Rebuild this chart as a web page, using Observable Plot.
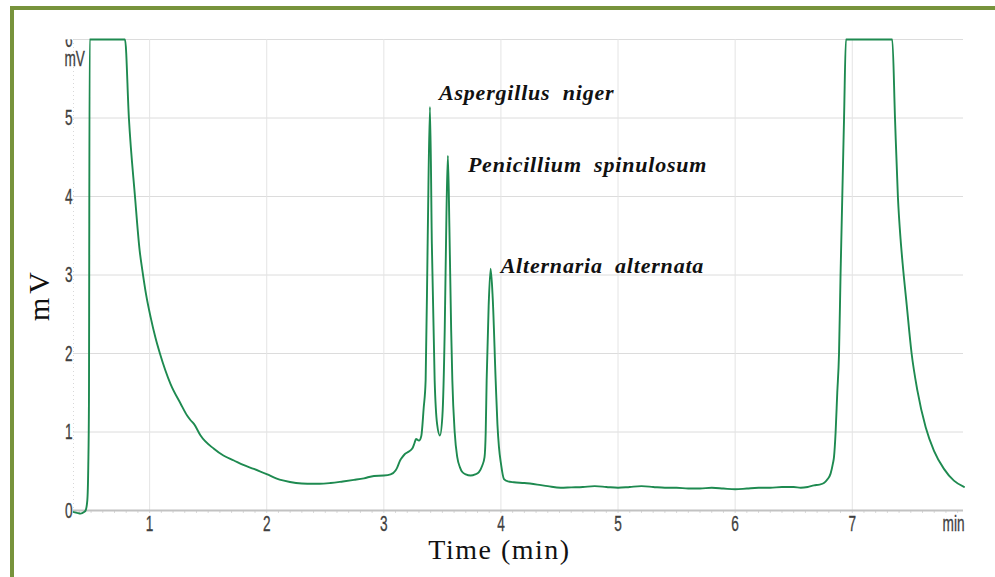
<!DOCTYPE html>
<html>
<head>
<meta charset="utf-8">
<script src="https://cdn.jsdelivr.net/npm/d3@7"></script>
<script src="https://cdn.jsdelivr.net/npm/@observablehq/plot@0.6"></script>
<style>
  html, body { margin: 0; padding: 0; background: #fff; }
  #frame { position: relative; width: 995px; height: 577px; overflow: hidden; }
  #chart { position: absolute; left: 0; top: 0; }
  #frame .edge {
    position: absolute; left: 10px; top: 6px; right: 0; bottom: 0;
    border-top: 4px solid #77933c; border-left: 4px solid #77933c;
    pointer-events: none;
  }
</style>
</head>
<body>
<div id="frame"><div id="chart"></div><div class="edge"></div></div>
<script>
// Chromatogram trace: retention time (min) and detector signal (mV).
// The detector saturates at the top of the 0–6 mV window (solvent fronts).
const time = [
  0.352, 0.38, 0.41, 0.44, 0.453, 0.468, 0.476, 0.482, 0.488,
  0.79, 0.823, 0.875, 0.915, 0.938, 0.97, 1.009, 1.05, 1.088,
  1.179, 1.265, 1.32, 1.35, 1.38, 1.435, 1.549, 1.63, 1.72, 1.80, 1.89,
  2.005, 2.08, 2.147, 2.25, 2.347, 2.45, 2.546, 2.65, 2.745, 2.83, 2.916,
  3.0, 3.058, 3.1, 3.115, 3.14, 3.158, 3.18, 3.2, 3.243, 3.26, 3.275, 3.3, 3.32,
  3.34, 3.357, 3.375, 3.394, 3.41, 3.434, 3.455, 3.479, 3.50, 3.52, 3.535,
  3.547, 3.56, 3.575, 3.585, 3.605, 3.627, 3.65, 3.67, 3.70, 3.741, 3.78,
  3.812, 3.84, 3.86, 3.87, 3.878, 3.895, 3.912, 3.93, 3.955, 3.97, 3.983,
  4.0, 4.026, 4.06, 4.11, 4.2, 4.31, 4.4, 4.51, 4.6, 4.7, 4.8, 4.9,
  5.0, 5.1, 5.2, 5.3, 5.4, 5.5, 5.6, 5.7, 5.8, 5.9, 6.0, 6.1, 6.2, 6.3,
  6.4, 6.5, 6.56, 6.62, 6.673, 6.72, 6.758, 6.79, 6.815, 6.835, 6.844,
  6.858, 6.872, 6.887, 6.9, 6.93, 6.946, 7.342, 7.365, 7.39, 7.413, 7.43,
  7.465, 7.507, 7.556, 7.627, 7.698, 7.783, 7.868, 7.954
];
const signal = [
  -0.02, -0.03, -0.04, -0.02, 0.0, 0.13, 0.55, 1.4, 6.0,
  6.0, 5.0, 4.0, 3.31, 3.06, 2.75, 2.46, 2.2, 2.0,
  1.61, 1.36, 1.21, 1.15, 1.10, 0.955, 0.786, 0.70, 0.637, 0.58, 0.53,
  0.459, 0.41, 0.38, 0.35, 0.34, 0.34, 0.35, 0.37, 0.39, 0.41, 0.44,
  0.445, 0.46, 0.51, 0.55, 0.64, 0.68, 0.72, 0.74, 0.79, 0.85, 0.91, 0.89, 0.95,
  1.3, 1.66, 3.5, 5.14, 3.4, 1.66, 1.1, 0.955, 1.2, 2.3, 3.8,
  4.52, 3.6, 2.3, 1.66, 1.0, 0.68, 0.55, 0.49, 0.46, 0.446, 0.46,
  0.49, 0.57, 0.68, 1.0, 1.66, 2.6, 3.08, 2.7, 1.66, 1.1, 0.81,
  0.6, 0.40, 0.37, 0.36, 0.35, 0.33, 0.31, 0.29, 0.295, 0.30, 0.31, 0.30,
  0.29, 0.30, 0.31, 0.30, 0.29, 0.29, 0.28, 0.28, 0.29, 0.28, 0.27, 0.28, 0.29, 0.29,
  0.30, 0.30, 0.29, 0.30, 0.32, 0.33, 0.35, 0.40, 0.47, 0.6, 0.68,
  1.0, 1.5, 2.0, 3.0, 5.0, 6.0, 6.0, 5.0, 3.99, 3.45, 3.15,
  2.62, 2.0, 1.53, 1.06, 0.76, 0.53, 0.38, 0.30
];

// Identified fungal peaks
const peakNames = ["Aspergillus niger", "Penicillium spinulosum", "Alternaria alternata"];
const peakTime = [3.394, 3.547, 3.912];
const peakHeight = [5.14, 4.52, 3.08];

// Axes
const xTicks = [1, 2, 3, 4, 5, 6, 7];
const yTicks = [0, 1, 2, 3, 4, 5, 6];
const xDomain = [0.35, 7.95];
const yDomain = [0, 6];

const traceColor = "#1e8a50";
const tickColor = "#3f3f3f";
const tickFont = "Liberation Sans, Arial, sans-serif";
const serif = "Liberation Serif, Times New Roman, serif";
const intFormat = (d) => String(d);

function peakLabel(i, dx, dy) {
  return Plot.text([i], {
    x: [peakTime[i]], y: [peakHeight[i]], text: [peakNames[i]],
    dx, dy, textAnchor: "start", lineAnchor: "middle",
    fontFamily: serif, fontStyle: "italic", fontWeight: "bold",
    fontSize: 22, fill: "#111", ariaDescription: "peak-label"
  });
}

const chart = Plot.plot({
  width: 995,
  height: 577,
  marginLeft: 73,
  marginRight: 32,
  marginTop: 39,
  marginBottom: 67,
  style: { background: "transparent", overflow: "visible" },
  x: { domain: xDomain },
  y: { domain: yDomain },
  marks: [
    Plot.gridY(yTicks.slice(1), { stroke: "#dcdcdc", strokeOpacity: 1, strokeWidth: 1 }),
    Plot.gridX(xTicks, { stroke: "#e4e4e4", strokeOpacity: 1, strokeWidth: 1 }),
    Plot.ruleX([xDomain[0]], { stroke: "#d8d8d8", strokeDasharray: "1,3" }),
    Plot.axisX(d3.range(0.4, 7.95, 0.1), {
      tickSize: 3, stroke: "#dadada", text: null, label: null, strokeWidth: 1
    }),
    Plot.ruleY([0], { stroke: "#c2c2c2", strokeWidth: 2 }),
    Plot.axisY(yTicks, {
      tickSize: 0, tickPadding: 1, fontSize: 22, fontFamily: tickFont,
      color: tickColor, label: null, tickFormat: intFormat
    }),
    Plot.axisX(xTicks, {
      tickSize: 0, tickPadding: 5, fontSize: 22, fontFamily: tickFont,
      color: tickColor, label: null, tickFormat: intFormat
    }),
    Plot.text(["mV"], {
      frameAnchor: "top-left", dx: -9, dy: 11, textAnchor: "start", lineAnchor: "top",
      fontSize: 22, fontFamily: tickFont, fill: tickColor, ariaDescription: "unit-label"
    }),
    Plot.text(["min"], {
      frameAnchor: "bottom-right", dx: 1, dy: 5, textAnchor: "end", lineAnchor: "top",
      fontSize: 22, fontFamily: tickFont, fill: tickColor, ariaDescription: "unit-label"
    }),
    Plot.line(time, {
      x: time, y: signal, stroke: traceColor, strokeWidth: 1.9,
      curve: "monotone-x", strokeLinejoin: "round"
    }),
    peakLabel(0, 9, -14),
    peakLabel(1, 20, 9),
    peakLabel(2, 10, -3),
    Plot.text(["Time (min)"], {
      frameAnchor: "bottom", dx: -19, dy: 40, lineAnchor: "middle",
      fontFamily: serif, fontSize: 28, fill: "#111", ariaDescription: "axis-title"
    }),
    Plot.text(["mV"], {
      frameAnchor: "left", dx: -36, rotate: -90, lineAnchor: "middle",
      fontFamily: serif, fontSize: 30, fill: "#111", ariaDescription: "y-title"
    })
  ]
});

document.getElementById("chart").appendChild(chart);

// Condensed, slightly heavy look for the instrument's tick and unit labels
function narrow(g) {
  g.querySelectorAll("text").forEach((t) => {
    let tr = t.getAttribute("transform");
    if (!tr) {
      const x = +(t.getAttribute("x") || 0), y = +(t.getAttribute("y") || 0);
      t.removeAttribute("x"); t.removeAttribute("y");
      tr = `translate(${x},${y})`;
    }
    t.setAttribute("transform", tr + " scale(0.62,1)");
    t.style.stroke = tickColor;
    t.style.strokeWidth = "0.35px";
  });
}
chart.querySelectorAll('g[aria-label="y-axis tick label"], g[aria-label="x-axis tick label"], g[aria-description="unit-label"]')
  .forEach(narrow);

// Letter and word spacing for the titles and peak names
chart.querySelectorAll('g[aria-description="peak-label"] text').forEach((t) => {
  t.style.letterSpacing = "0.8px"; t.style.wordSpacing = "6px";
});
chart.querySelectorAll('g[aria-description="axis-title"] text').forEach((t) => {
  t.style.letterSpacing = "1.5px";
});

// Vertical title: spaced out and centred a little below the middle of the frame
chart.querySelectorAll('g[aria-description="y-title"]').forEach((g) => {
  const t = g.querySelector("text");
  t.style.letterSpacing = "4px";
  const box = t.getBoundingClientRect();
  const host = chart.getBoundingClientRect();
  const cx = box.left + box.width / 2 - host.left;
  const cy = box.top + box.height / 2 - host.top;
  const frameMid = (39 + 510) / 2;
  const shiftY = frameMid + 20 - cy;
  const shiftX = 38 - cx;
  const prev = g.getAttribute("transform") || "";
  g.setAttribute("transform", `${prev} translate(${shiftX},${shiftY})`);
});

// The top tick label is cut at the upper edge of the plot window
const ns = "http://www.w3.org/2000/svg";
const defs = document.createElementNS(ns, "defs");
const cp = document.createElementNS(ns, "clipPath");
cp.setAttribute("id", "plot-window");
const r = document.createElementNS(ns, "rect");
r.setAttribute("x", 0); r.setAttribute("y", 39);
r.setAttribute("width", 995); r.setAttribute("height", 600);
cp.appendChild(r); defs.appendChild(cp); chart.insertBefore(defs, chart.firstChild);
chart.querySelectorAll('g[aria-label="y-axis tick label"]')
  .forEach((g) => g.setAttribute("clip-path", "url(#plot-window)"));
</script>
</body>
</html>
